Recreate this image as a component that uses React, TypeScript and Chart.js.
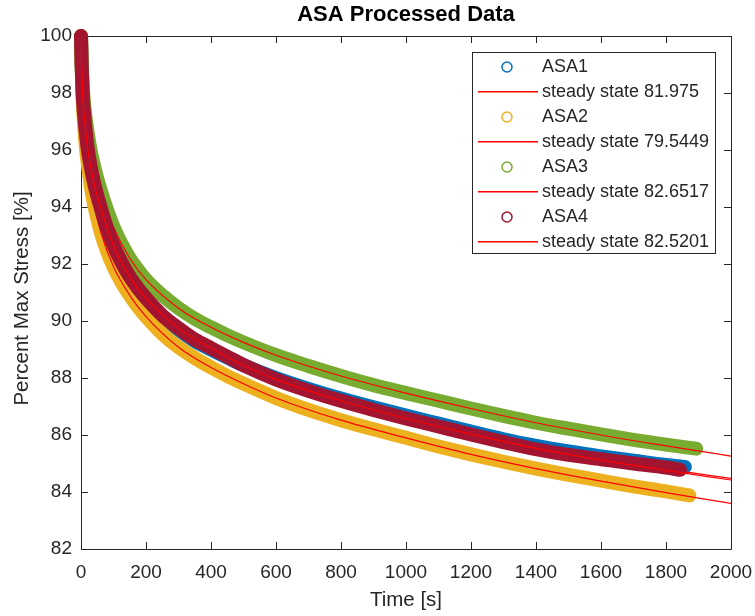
import React, { useEffect, useRef } from "react";
import { Chart, registerables } from "chart.js";

Chart.register(...registerables);

// Sample times [s] shared by the four measured relaxation records
const sampleTimes = [
  0, 2, 5, 10, 15, 20, 30, 40, 50, 60, 80, 100, 125, 150, 175, 200, 250, 300,
  350, 400, 450, 500, 600, 700, 800, 900, 1000, 1100, 1200, 1300, 1400, 1500,
  1600, 1700, 1800,
];

// Last recorded time of each specimen
const endTimes = [1858, 1872, 1893, 1843];

// Percent of max stress for each specimen (last value is at its end time)
const asa1Stress = [
  100, 99.0, 98.0, 97.2, 96.6, 96.1, 95.4, 94.85, 94.4, 94.0, 93.25, 92.6, 92.0,
  91.5, 91.1, 90.75, 90.15, 89.7, 89.3, 89.0, 88.72, 88.45, 88.0, 87.62, 87.28,
  86.97, 86.68, 86.4, 86.12, 85.85, 85.62, 85.42, 85.25, 85.1, 84.95, 84.88,
];
const asa2Stress = [
  100, 98.9, 97.8, 96.8, 96.1, 95.6, 94.75, 94.1, 93.6, 93.15, 92.45, 91.9,
  91.35, 90.9, 90.5, 90.15, 89.55, 89.08, 88.7, 88.37, 88.07, 87.8, 87.3, 86.88,
  86.52, 86.2, 85.9, 85.6, 85.32, 85.06, 84.82, 84.6, 84.4, 84.2, 84.02, 83.88,
];
const asa3Stress = [
  100, 99.1, 98.3, 97.55, 97.05, 96.65, 95.95, 95.45, 95.0, 94.6, 93.9, 93.3,
  92.7, 92.2, 91.8, 91.45, 90.9, 90.45, 90.08, 89.78, 89.5, 89.25, 88.8, 88.42,
  88.07, 87.75, 87.47, 87.2, 86.93, 86.67, 86.43, 86.22, 86.02, 85.83, 85.66,
  85.52,
];
const asa4Stress = [
  100, 99.0, 98.0, 97.2, 96.6, 96.1, 95.4, 94.85, 94.4, 94.0, 93.25, 92.65,
  92.05, 91.55, 91.15, 90.8, 90.2, 89.75, 89.35, 89.05, 88.75, 88.45, 87.95,
  87.55, 87.2, 86.88, 86.58, 86.3, 86.02, 85.75, 85.5, 85.3, 85.15, 85.0, 84.86,
  84.78,
];

// Fitted relaxation curves, evaluated out to the end of the time axis
const fitTimes = [
  0, 2, 5, 10, 20, 40, 60, 100, 150, 200, 300, 400, 500, 600, 800, 1000, 1200,
  1400, 1600, 1800, 2000,
];
const fit1Stress = [
  100, 99.0, 98.0, 97.2, 96.1, 94.85, 94.0, 92.62, 91.52, 90.78, 89.72, 89.02,
  88.47, 88.0, 87.26, 86.66, 86.1, 85.6, 85.17, 84.8, 84.48,
];
const fit2Stress = [
  100, 98.9, 97.8, 96.8, 95.6, 94.1, 93.15, 91.9, 90.9, 90.15, 89.08, 88.37,
  87.8, 87.3, 86.52, 85.9, 85.32, 84.82, 84.38, 83.98, 83.6,
];
const fit3Stress = [
  100, 99.1, 98.3, 97.55, 96.65, 95.45, 94.6, 93.3, 92.2, 91.45, 90.45, 89.78,
  89.25, 88.8, 88.07, 87.47, 86.93, 86.43, 86.0, 85.62, 85.26,
];
const fit4Stress = [
  100, 99.0, 98.0, 97.2, 96.1, 94.85, 94.0, 92.65, 91.55, 90.8, 89.75, 89.05,
  88.45, 87.95, 87.2, 86.58, 86.03, 85.53, 85.12, 84.76, 84.42,
];

const seriesNames = ["ASA1", "ASA2", "ASA3", "ASA4"];
const steadyStates = ["81.975", "79.5449", "82.6517", "82.5201"];
const seriesColors = ["#0072BD", "#EDB120", "#77AC30", "#A2142F"];
const fitColor = "rgb(255, 0, 0)";

const FONT = '"Liberation Sans", Arial, Helvetica, sans-serif';
const INK = "#262626";

const measured = [asa1Stress, asa2Stress, asa3Stress, asa4Stress];
const fitted = [fit1Stress, fit2Stress, fit3Stress, fit4Stress];

function toPoints(times: number[], values: number[]) {
  return values.map((y, i) => ({ x: times[i], y }));
}

// Box around the axes with inward tick marks on all four sides,
// plus titles and the legend panel
const axesBox = {
  id: "axesBox",
  beforeDatasetsDraw(chart: any) {
    const { ctx, chartArea: a, scales } = chart;
    const tick = 7;
    ctx.save();
    ctx.strokeStyle = INK;
    ctx.lineWidth = 1;
    ctx.beginPath();
    ctx.rect(a.left + 0.5, a.top + 0.5, a.right - a.left, a.bottom - a.top);
    for (const t of scales.x.ticks) {
      const px = Math.round(scales.x.getPixelForValue(t.value)) + 0.5;
      ctx.moveTo(px, a.bottom);
      ctx.lineTo(px, a.bottom - tick);
      ctx.moveTo(px, a.top);
      ctx.lineTo(px, a.top + tick);
    }
    for (const t of scales.y.ticks) {
      const py = Math.round(scales.y.getPixelForValue(t.value)) + 0.5;
      ctx.moveTo(a.left, py);
      ctx.lineTo(a.left + tick, py);
      ctx.moveTo(a.right, py);
      ctx.lineTo(a.right - tick, py);
    }
    ctx.stroke();
    ctx.restore();
  },
  afterDraw(chart: any) {
    const { ctx, chartArea: a } = chart;
    ctx.save();
    ctx.fillStyle = "#000";
    ctx.textAlign = "center";
    ctx.textBaseline = "middle";
    ctx.font = `bold 22px ${FONT}`;
    ctx.fillText("ASA Processed Data", (a.left + a.right) / 2, 15);

    ctx.fillStyle = INK;
    ctx.font = `20.5px ${FONT}`;
    ctx.fillText("Time [s]", (a.left + a.right) / 2, 600);
    ctx.save();
    ctx.translate(22, (a.top + a.bottom) / 2 + 6);
    ctx.rotate(-Math.PI / 2);
    ctx.fillText("Percent Max Stress [%]", 0, 0);
    ctx.restore();

    // Legend
    const lx = 472.5;
    const ly = 52.5;
    const lw = 243;
    const rowH = 25;
    const lh = rowH * 8 + 1;
    ctx.fillStyle = "#fff";
    ctx.fillRect(lx, ly, lw, lh);
    ctx.strokeStyle = INK;
    ctx.lineWidth = 1;
    ctx.strokeRect(lx, ly, lw, lh);
    ctx.font = `18px ${FONT}`;
    ctx.textAlign = "left";
    for (let i = 0; i < 4; i++) {
      const y1 = Math.round(ly + 14 + rowH * (2 * i));
      const y2 = y1 + rowH;
      ctx.strokeStyle = seriesColors[i];
      ctx.lineWidth = 1.5;
      ctx.beginPath();
      ctx.arc(507, y1, 5, 0, Math.PI * 2);
      ctx.stroke();
      ctx.fillStyle = fitColor;
      ctx.fillRect(478, y2 - 1, 60, 1.5);
      ctx.fillStyle = INK;
      ctx.fillText(seriesNames[i], 542, y1);
      ctx.fillText("steady state " + steadyStates[i], 542, y2);
    }
    ctx.restore();
  },
};

export default function App() {
  const canvasRef = useRef<HTMLCanvasElement>(null);

  useEffect(() => {
    const datasets: any[] = [];
    for (let i = 0; i < 4; i++) {
      datasets.push({
        label: seriesNames[i],
        data: toPoints([...sampleTimes, endTimes[i]], measured[i]),
        borderColor: seriesColors[i],
        backgroundColor: seriesColors[i],
        borderWidth: 14,
        borderCapStyle: "round",
        borderJoinStyle: "round",
        pointRadius: 0,
        cubicInterpolationMode: "monotone",
        clip: false,
        order: 8 - 2 * i,
      });
      datasets.push({
        label: "steady state " + steadyStates[i],
        data: toPoints(fitTimes, fitted[i]),
        borderColor: fitColor,
        borderWidth: 1.2,
        pointRadius: 0,
        cubicInterpolationMode: "monotone",
        order: 7 - 2 * i,
      });
    }

    const chart = new Chart(canvasRef.current as HTMLCanvasElement, {
      type: "line",
      data: { datasets },
      options: {
        animation: false,
        responsive: false,
        devicePixelRatio: 1,
        events: [],
        layout: { padding: { left: 0, top: 36, right: 24, bottom: 0 } },
        plugins: {
          legend: { display: false },
          title: { display: false },
          tooltip: { enabled: false },
        },
        scales: {
          x: {
            type: "linear",
            min: 0,
            max: 2000,
            grid: { display: false, drawTicks: false },
            border: { display: false },
            ticks: {
              stepSize: 200,
              color: INK,
              padding: 12,
              maxRotation: 0,
              font: { family: FONT, size: 19 },
              callback: (v: any) => String(v),
            },
            afterFit(scale: any) {
              scale.height = 67;
              scale.paddingLeft = 0;
              scale.paddingRight = 0;
            },
          },
          y: {
            type: "linear",
            min: 82,
            max: 100,
            grid: { display: false, drawTicks: false },
            border: { display: false },
            ticks: {
              stepSize: 2,
              color: INK,
              padding: 9,
              font: { family: FONT, size: 19 },
              callback: (v: any) => String(v),
            },
            afterFit(scale: any) {
              scale.width = 81;
              scale.paddingTop = 0;
              scale.paddingBottom = 0;
            },
          },
        },
      },
      plugins: [axesBox],
    });

    return () => chart.destroy();
  }, []);

  return (
    <div style={{ position: "absolute", left: 0, top: 0, width: 755, height: 616 }}>
      <canvas ref={canvasRef} width={755} height={616} style={{ display: "block" }} />
    </div>
  );
}
